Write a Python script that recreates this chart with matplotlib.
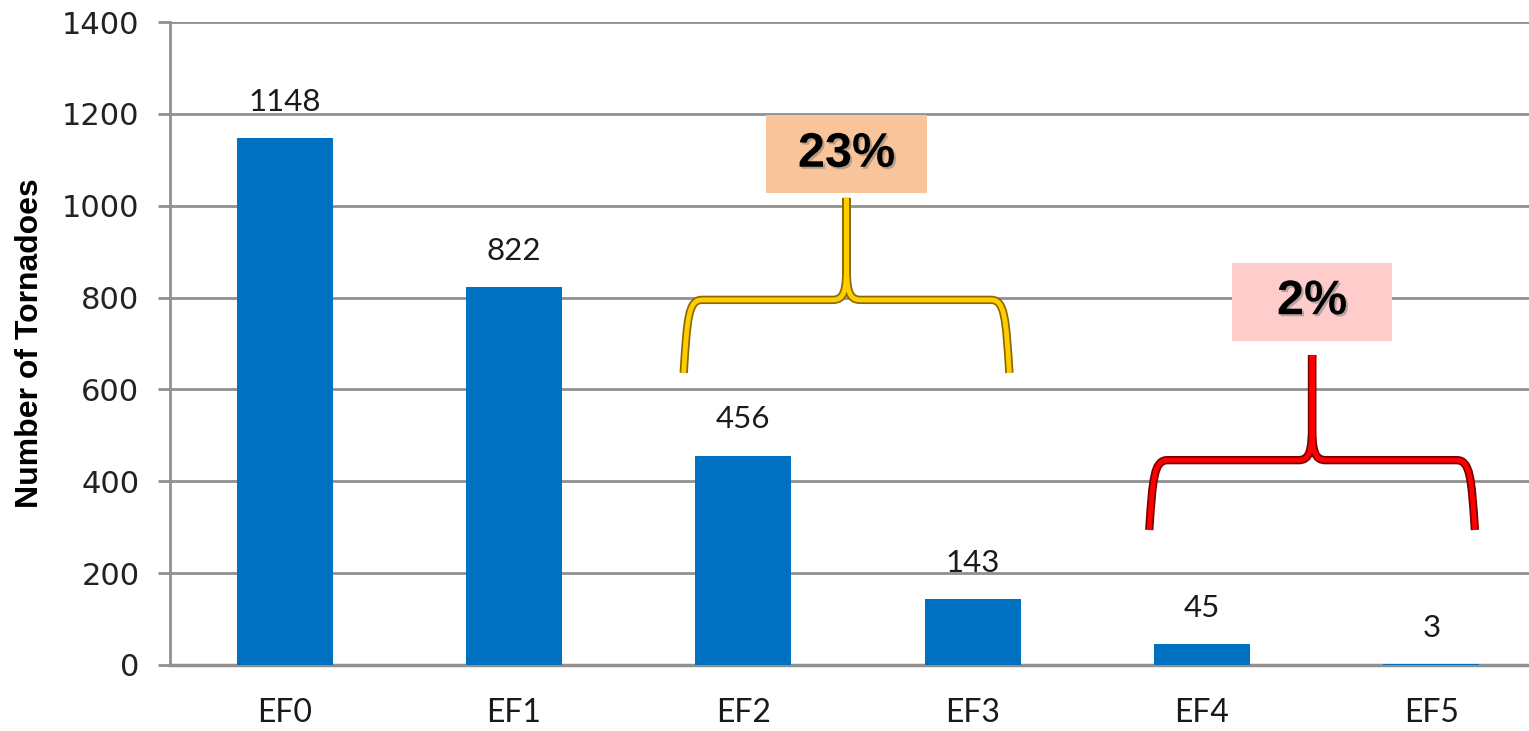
import matplotlib
matplotlib.use("Agg")
import matplotlib.pyplot as plt
import matplotlib.patheffects as pe
from matplotlib.path import Path
from matplotlib.patches import PathPatch, Rectangle

# Tornado counts by EF rating
categories = ["EF0", "EF1", "EF2", "EF3", "EF4", "EF5"]
counts = [1148, 822, 456, 143, 45, 3]
y_ticks = [0, 200, 400, 600, 800, 1000, 1200, 1400]

# Share of strong (EF2-EF3) and violent (EF4-EF5) tornadoes
group_labels = ["23%", "2%"]
group_spans = [(1.74, 3.16), (3.77, 5.19)]
group_levels = [(636, 795, 1017), (294, 446, 675)]  # bottom, bar, tip
group_boxes = [1112, 791]
group_box_colors = ["#F9C499", "#FFCCCC"]
group_line = [("#FFCC00", "#8A6A00"), ("#FF0000", "#7A0000")]

fig = plt.figure(figsize=(15.29, 7.31), dpi=100)
ax = fig.add_axes([170 / 1529, 66 / 731, 1376 / 1529, 643 / 731])

x = range(len(categories))
ax.bar(x, counts, width=0.42, color="#0070C0", zorder=3)

for i, v in enumerate(counts):
    ax.annotate(str(v), (i, v), xytext=(0, 26), textcoords="offset points",
                ha="center", va="center", fontsize=22.5, family="Lato", color="#1a1a1a")

ax.set_xlim(-0.5, 5.5)
ax.set_ylim(0, 1400)
ax.set_yticks(y_ticks)
ax.set_xticks(list(x))
ax.set_xticklabels(categories, family="Lato", fontsize=23, color="#1a1a1a")
ax.tick_params(axis="x", length=0, pad=24)
ax.tick_params(axis="y", length=9, width=2, color="#909090", pad=13, labelsize=22,
               labelcolor="#222222")
ax.grid(axis="y", color="#909090", linewidth=2, zorder=0)
for s in ["top", "right"]:
    ax.spines[s].set_visible(False)
ax.spines["left"].set_color("#909090")
ax.spines["left"].set_linewidth(2)
ax.spines["bottom"].set_color("#909090")
ax.spines["bottom"].set_linewidth(2.5)

fig.text(30 / 1529, 0.53, "Number of Tornadoes", rotation=90, ha="center", va="center",
         fontsize=23, fontweight="bold", family="Liberation Sans")


def brace(xl, xr, yb, ym, yt, color, edge):
    xc = (xl + xr) / 2
    verts, codes = [], []
    for side in (-1, 1):
        xe = xr if side > 0 else xl
        verts += [(xe, yb), (xe - side * 0.015, ym - 40), (xe - side * 0.02, ym),
                  (xe - side * 0.08, ym), (xc + side * 0.06, ym),
                  (xc + side * 0.01, ym), (xc, ym + 20), (xc, ym + 80), (xc, yt)]
        codes += [Path.MOVETO, Path.CURVE4, Path.CURVE4, Path.CURVE4, Path.LINETO,
                  Path.CURVE4, Path.CURVE4, Path.CURVE4, Path.LINETO]
    patch = PathPatch(Path(verts, codes), fill=False, edgecolor=color, linewidth=3.5,
                      capstyle="butt", zorder=5, clip_on=False)
    patch.set_path_effects([pe.Stroke(linewidth=6, foreground=edge), pe.Normal()])
    ax.add_patch(patch)


box_w, box_h = 0.698, 170
for lab, span, lev, by, bc, lc in zip(group_labels, group_spans, group_levels,
                                      group_boxes, group_box_colors, group_line):
    brace(span[0], span[1], lev[0], lev[1], lev[2], lc[0], lc[1])
    xc = (span[0] + span[1]) / 2
    ax.add_patch(Rectangle((xc - box_w / 2, by - box_h / 2), box_w, box_h,
                           facecolor=bc, edgecolor="none", zorder=6, clip_on=False))
    t = ax.text(xc, by, lab, ha="center", va="center", fontsize=35, fontweight="bold",
                family="Liberation Sans", zorder=7)
    t.set_path_effects([pe.withSimplePatchShadow(offset=(1.5, -1.5),
                                                 shadow_rgbFace="#777777", alpha=0.5)])

fig.savefig("out.png", dpi=100)
